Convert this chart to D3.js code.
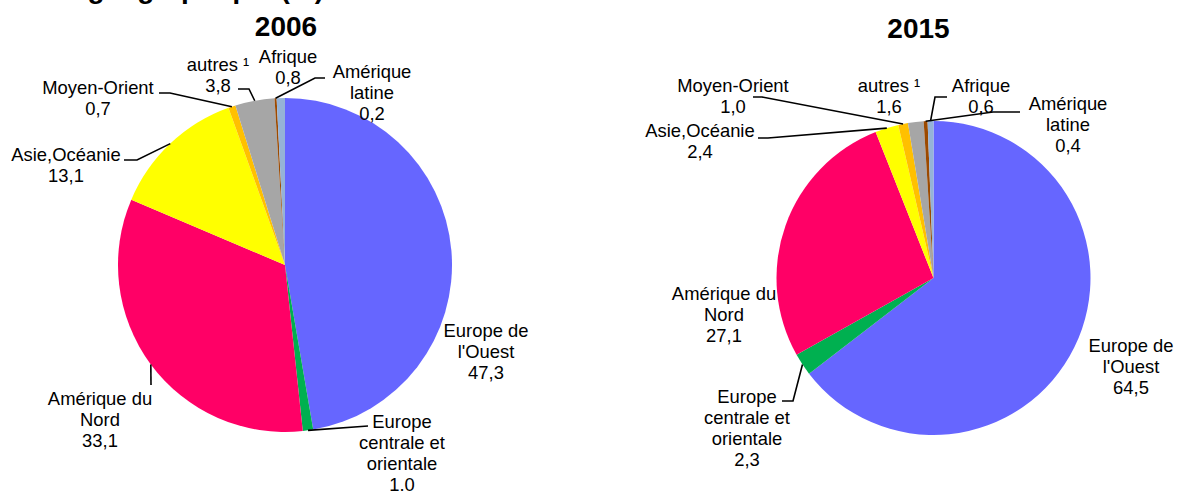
<!DOCTYPE html>
<html>
<head>
<meta charset="utf-8">
<title>Répartition géographique</title>
<style>
  body{ margin:0; background:#fff; }
  svg{ display:block; background:#fff; }
  text{ font-family:"Liberation Sans", Arial, sans-serif; fill:#000; }
  text.lbl{ font-size:18.4px; text-anchor:middle; }
  text.ttl{ font-size:28px; font-weight:bold; text-anchor:middle; }
  text.main{ font-size:28px; font-weight:bold; }
  path.leader{ fill:none; stroke:#000; stroke-width:1.6px; }
</style>
</head>
<body>
<script src="https://cdn.jsdelivr.net/npm/d3@7"></script>
<script>
const width = 1177;
const height = 493;

// categories (one line per entry), in slice order clockwise from 12 o'clock
const regions = [
  ["Europe de", "l'Ouest"],
  ["Europe", "centrale et", "orientale"],
  ["Amérique du", "Nord"],
  ["Asie,Océanie"],
  ["Moyen-Orient"],
  ["autres \u00b9"],
  ["Amérique", "latine"],
  ["Afrique"]
];
const colors = ["#6666ff", "#00b050", "#ff0066", "#ffff00", "#ffc000", "#a6a6a6", "#9c4a00", "#95b3d7"];

const values2006 = [47.3, 1.0, 33.1, 13.1, 0.7, 3.8, 0.2, 0.8];
const values2015 = [64.5, 2.3, 27.1, 2.4, 1.0, 1.6, 0.4, 0.6];
const text2006 = ["47,3", "1.0", "33,1", "13,1", "0,7", "3,8", "0,2", "0,8"];
const text2015 = ["64,5", "2,3", "27,1", "2,4", "1,0", "1,6", "0,4", "0,6"];

// label layout: [x, first baseline, leader points before the slice edge]
const layout2006 = [
  [486, 337, null],
  [402, 428, [[368, 426]]],
  [100, 405, [[151, 385]]],
  [66, 161, [[124, 160], [137, 160]]],
  [98, 94, [[159, 93], [170, 93]]],
  [218, 70.5, [[238, 89], [249, 89]]],
  [372, 78, [[325, 78], [315, 78]]],
  [288, 63, null]
];
const layout2015 = [
  [1131, 352, null],
  [747, 403, [[782, 401], [793, 401]]],
  [724, 300, null],
  [700, 137, [[758, 138], [768, 138]]],
  [733, 92, [[753, 97], [762, 97]]],
  [889, 92, null],
  [1068, 110, [[1020, 112], [993, 112]]],
  [981, 92, [[947, 97], [935, 97]]]
];

const svg = d3.select('body')
  .append('svg')
  .attr('width', width)
  .attr('height', height);

// page title, mostly cut off by the top edge
svg.append('text')
  .attr('class', 'main')
  .attr('x', -68)
  .attr('y', -2)
  .text('Répartition géographique (%)');

function drawPie(values, texts, layout, cx, cy, r, title, titleX, titleY) {
  const pie = d3.pie().sort(null).startAngle(0).endAngle(2 * Math.PI);
  const arc = d3.arc().innerRadius(0).outerRadius(r);
  const arcs = pie(values);

  const g = svg.append('g').attr('transform', `translate(${cx},${cy})`);

  g.selectAll('path.slice')
    .data(arcs)
    .join('path')
    .attr('class', 'slice')
    .attr('d', arc)
    .attr('fill', (d, i) => colors[i]);

  svg.append('text')
    .attr('class', 'ttl')
    .attr('x', titleX)
    .attr('y', titleY)
    .text(title);

  // leader lines: from label to the slice edge at its mid angle
  arcs.forEach((d, i) => {
    const pts = layout[i][2];
    if (!pts) return;
    const a = (d.startAngle + d.endAngle) / 2;
    const end = [cx + r * Math.sin(a), cy - r * Math.cos(a)];
    svg.append('path')
      .attr('class', 'leader')
      .attr('d', d3.line()(pts.concat([end])));
  });

  // labels
  arcs.forEach((d, i) => {
    const lines = regions[i].concat([texts[i]]);
    const t = svg.append('text')
      .attr('class', 'lbl')
      .attr('x', layout[i][0])
      .attr('y', layout[i][1]);
    lines.forEach((s, k) => {
      t.append('tspan')
        .attr('x', layout[i][0])
        .attr('dy', k === 0 ? 0 : 21)
        .text(s);
    });
  });
}

drawPie(values2006, text2006, layout2006, 285, 265, 167, '2006', 286, 36);
drawPie(values2015, text2015, layout2015, 933.5, 278, 157, '2015', 918.5, 38);
</script>
</body>
</html>
